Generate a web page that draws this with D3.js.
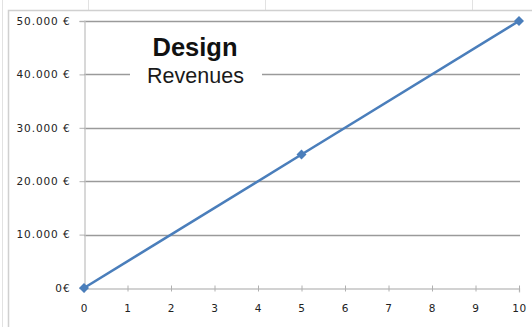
<!DOCTYPE html>
<html>
<head>
<meta charset="utf-8">
<script src="https://cdn.jsdelivr.net/npm/d3@7/dist/d3.min.js"></script>
<style>
  html, body { margin: 0; padding: 0; background: #fff; }
  svg { display: block; }
</style>
</head>
<body>
<svg id="chart" width="532" height="327"></svg>
<script>
// Revenue over time, 0–10 units
const years = [0, 5, 10];
const revenues = [0, 25000, 50000];
const xTicks = [0, 1, 2, 3, 4, 5, 6, 7, 8, 9, 10];
const yTicks = [0, 10000, 20000, 30000, 40000, 50000];
const titleText = "Design";
const subtitleText = "Revenues";

const svg = d3.select("#chart");
const W = 532, H = 327;
const plot = { left: 84, right: 519, top: 21, bottom: 288 };

// faint worksheet cell lines behind the chart object
const sheet = svg.append("g").attr("stroke", "#e2e2e2").attr("stroke-width", 1);
[88.5, 265.5, 472.5].forEach(xx => sheet.append("line").attr("x1", xx).attr("x2", xx).attr("y1", 0).attr("y2", 10));
sheet.append("line").attr("x1", 2.5).attr("x2", 2.5).attr("y1", 0).attr("y2", H);

// chart object frame (top and left edges visible)
svg.append("rect")
  .attr("x", 8).attr("y", 10).attr("width", W - 8).attr("height", H - 10)
  .attr("fill", "#fff");
svg.append("path")
  .attr("d", `M8.5,${H}V10.5H${W}`)
  .attr("fill", "none").attr("stroke", "#d0d0d0").attr("stroke-width", 1.5);

const x = d3.scaleLinear().domain([0, 10]).range([plot.left, plot.right]);
const y = d3.scaleLinear().domain([0, 50000]).range([plot.bottom, plot.top]);

const fmtEuro = v => (v === 0 ? "0€" : d3.format(",")(v).replace(/,/g, ".") + " €");

// horizontal gridlines
svg.append("g")
  .selectAll("line")
  .data(yTicks.filter(v => v > 0))
  .join("line")
  .attr("x1", plot.left).attr("x2", plot.right + 1)
  .attr("y1", d => Math.round(y(d)) + 0.5).attr("y2", d => Math.round(y(d)) + 0.5)
  .attr("stroke", "#9a9a9a").attr("stroke-width", 1.3);

// y axis
const yAxis = svg.append("g")
  .attr("transform", `translate(${plot.left + 0.5},0)`)
  .call(d3.axisLeft(y).tickValues(yTicks).tickFormat(fmtEuro).tickSize(5).tickPadding(9));
yAxis.select(".domain").attr("stroke", "#c4c4c4").attr("stroke-width", 1.3);
yAxis.selectAll(".tick line").attr("stroke", "#b0b0b0");
yAxis.selectAll("text")
  .attr("fill", "#222").attr("font-family", "'DejaVu Sans', sans-serif")
  .attr("font-size", 10.5).attr("letter-spacing", 0.9);

// x axis
const xAxis = svg.append("g")
  .attr("transform", `translate(0,${plot.bottom + 0.5})`)
  .call(d3.axisBottom(x).tickValues(xTicks).tickFormat(d3.format("d")).tickSize(4).tickPadding(12));
xAxis.select(".domain").attr("stroke", "#c4c4c4").attr("stroke-width", 1.3);
xAxis.selectAll(".tick line").attr("stroke", "#b0b0b0").attr("y1", -3).attr("y2", 3);
xAxis.selectAll("text")
  .attr("fill", "#222").attr("font-family", "'DejaVu Sans', sans-serif")
  .attr("font-size", 10.5).attr("letter-spacing", 0.6);

// title block masks the gridline behind it
svg.append("rect")
  .attr("x", 130).attr("y", 32).attr("width", 132).attr("height", 58)
  .attr("fill", "#fff");
svg.append("text")
  .attr("x", 195).attr("y", 56)
  .attr("text-anchor", "middle")
  .attr("font-family", "'Liberation Sans', Arial, sans-serif")
  .attr("font-weight", "bold").attr("font-size", 25.5).attr("fill", "#111")
  .text(titleText);
svg.append("text")
  .attr("x", 195.5).attr("y", 83)
  .attr("text-anchor", "middle")
  .attr("font-family", "'Liberation Sans', Arial, sans-serif")
  .attr("font-size", 21.5).attr("fill", "#1a1a1a")
  .text(subtitleText);

// revenue line
const pts = years.map((t, i) => [t, revenues[i]]);
svg.append("path")
  .datum(pts)
  .attr("fill", "none").attr("stroke", "#4a7ebb").attr("stroke-width", 2.6)
  .attr("d", d3.line().x(d => x(d[0])).y(d => y(d[1])));

// diamond markers
svg.append("g")
  .selectAll("path")
  .data(pts)
  .join("path")
  .attr("transform", d => `translate(${x(d[0])},${y(d[1])})`)
  .attr("d", d3.symbol(d3.symbolDiamond2, 64))
  .attr("fill", "#4a7ebb");
</script>
</body>
</html>
